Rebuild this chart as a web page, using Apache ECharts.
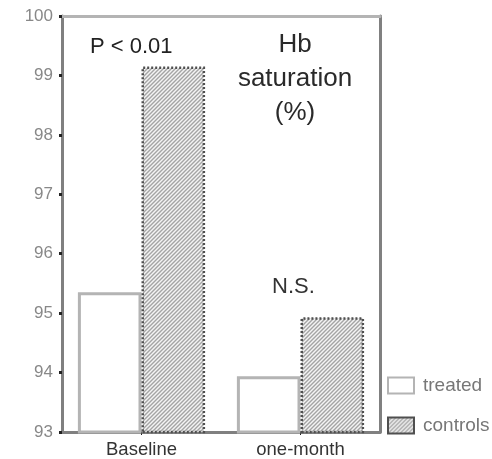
<!DOCTYPE html>
<html>
<head>
<meta charset="utf-8">
<script src="https://cdn.jsdelivr.net/npm/echarts@6/dist/echarts.min.js"></script>
<style>
  html, body { margin: 0; padding: 0; background: #fff; }
  #chart { width: 492px; height: 459px; }
</style>
</head>
<body>
<div id="chart"></div>
<script>
// Hb saturation (%) by time point
const categories = ['Baseline', 'one-month'];
const treated = [95.35, 93.94];
const controls = [99.15, 94.93];
const yTicks = [93, 94, 95, 96, 97, 98, 99, 100];

// diagonal hatching for the control bars
function hatch() {
  const c = document.createElement('canvas');
  c.width = 4; c.height = 4;
  const g = c.getContext('2d');
  g.fillStyle = '#f4f4f4';
  g.fillRect(0, 0, 4, 4);
  g.strokeStyle = '#a4a4a4';
  g.lineWidth = 1.4;
  g.beginPath();
  g.moveTo(-1, 5); g.lineTo(5, -1);
  g.moveTo(-1, 1); g.lineTo(1, -1);
  g.moveTo(3, 5); g.lineTo(5, 3);
  g.stroke();
  return { image: c, repeat: 'repeat' };
}
const hatchFill = hatch();

const chart = echarts.init(document.getElementById('chart'), null, { renderer: 'canvas' });
const font = 'Liberation Sans, Arial, sans-serif';

chart.setOption({
  animation: false,
  backgroundColor: '#fff',
  grid: { left: 62, right: 112, top: 16, bottom: 26 },
  xAxis: [
    {
      type: 'category', data: categories, position: 'bottom',
      axisLine: { lineStyle: { color: '#808080', width: 3 } },
      axisTick: { show: true, alignWithLabel: true, length: 3, lineStyle: { color: '#222' } },
      axisLabel: { color: '#333', fontFamily: font, fontSize: 18.5, margin: 8 }
    },
    {
      type: 'category', data: categories, position: 'top',
      axisLine: { lineStyle: { color: '#b4b4b4', width: 3 } },
      axisTick: { show: false }, axisLabel: { show: false }
    }
  ],
  yAxis: [
    {
      type: 'value', min: 93, max: 100, interval: 1,
      axisLine: { show: true, lineStyle: { color: '#808080', width: 3 } },
      axisTick: { show: true, length: 3, lineStyle: { color: '#222', width: 3 } },
      splitLine: { show: false },
      axisLabel: {
        color: '#888', fontFamily: font, fontSize: 17, margin: 9,
        formatter: v => yTicks.includes(v) ? String(v) : ''
      }
    },
    {
      type: 'value', min: 93, max: 100, interval: 1, position: 'right',
      axisLine: { show: true, lineStyle: { color: '#808080', width: 3 } },
      axisTick: { show: false }, axisLabel: { show: false }, splitLine: { show: false }
    }
  ],
  legend: {
    orient: 'vertical', left: 387, top: 376, padding: 0,
    icon: 'rect',
    itemWidth: 26, itemHeight: 16, itemGap: 21,
    textStyle: { color: '#777', fontFamily: font, fontSize: 19, padding: [0, 0, 0, 4] },
    data: ['treated', 'controls']
  },
  series: [
    {
      name: 'treated', type: 'bar', data: treated,
      barWidth: '40%', barGap: '0%',
      itemStyle: { color: '#fff', borderColor: '#b4b4b4', borderWidth: 3 }
    },
    {
      name: 'controls', type: 'bar', data: controls,
      barWidth: '40%',
      itemStyle: { color: hatchFill, borderColor: '#4f4f4f', borderWidth: 2.5, borderType: [2, 2] }
    }
  ],
  graphic: [
    { type: 'text', left: 90, top: 36, style: { text: 'P < 0.01', font: '22px ' + font, fill: '#222' } },
    { type: 'text', x: 295, y: 28, style: { text: 'Hb\nsaturation\n(%)', font: '26px ' + font, fill: '#2a2a2a', align: 'center', lineHeight: 34 } },
    { type: 'text', left: 272, top: 276, style: { text: 'N.S.', font: '22px ' + font, fill: '#333' } }
  ]
});
</script>
</body>
</html>
